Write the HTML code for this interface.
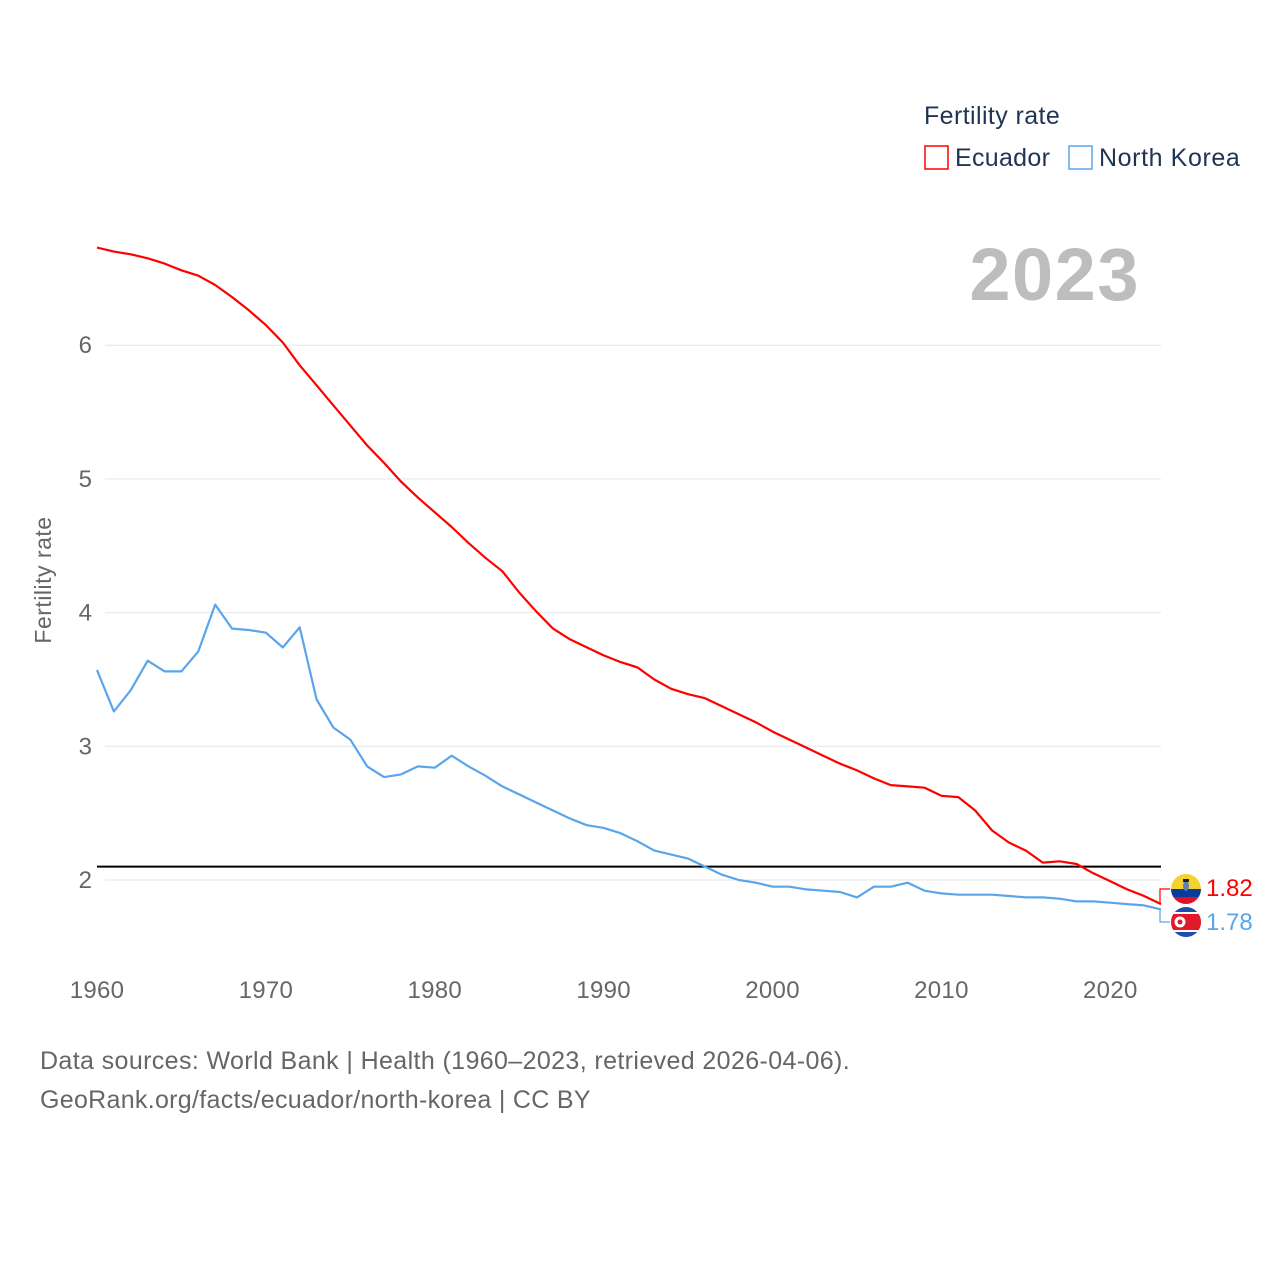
<!DOCTYPE html>
<html><head><meta charset="utf-8"><style>
body{margin:0;background:#fff;font-family:"Liberation Sans",sans-serif}
</style></head><body>
<svg id="chart" width="1280" height="1280" xmlns="http://www.w3.org/2000/svg" font-family="Liberation Sans, sans-serif">
<rect width="1280" height="1280" fill="#fff"/>
<g id="grid"></g>
<g id="lines"></g>
<text x="924" y="124" font-size="25" fill="#1f3354" letter-spacing="0.4">Fertility rate</text>
<g><rect x="925" y="146" width="23" height="23" fill="none" stroke="#ff0000" stroke-width="1.5"/><text x="955" y="166" font-size="25" fill="#1f3354" letter-spacing="0.3">Ecuador</text></g>
<g><rect x="1069" y="146" width="23" height="23" fill="none" stroke="#5aa5ea" stroke-width="1.5"/><text x="1099" y="166" font-size="25" fill="#1f3354" letter-spacing="0.6">North Korea</text></g>
<text x="1140" y="300" text-anchor="end" font-size="74" font-weight="bold" fill="#bdbdbd" letter-spacing="1.5">2023</text>
<text transform="translate(51,580) rotate(-90)" text-anchor="middle" font-size="23" fill="#666" letter-spacing="0.5">Fertility rate</text>
<text x="40" y="1069" font-size="25" fill="#666" letter-spacing="0.38">Data sources: World Bank | Health (1960–2023, retrieved 2026-04-06).</text>
<text x="40" y="1108" font-size="25" fill="#666" letter-spacing="0.3">GeoRank.org/facts/ecuador/north-korea | CC BY</text>
</svg>
<script>
const years=[];for(let y=1960;y<=2023;y++)years.push(y);
const ecuador=[6.73,6.70,6.68,6.65,6.61,6.56,6.52,6.45,6.36,6.26,6.15,6.02,5.85,5.70,5.55,5.40,5.25,5.12,4.98,4.86,4.75,4.64,4.52,4.41,4.31,4.15,4.01,3.88,3.80,3.74,3.68,3.63,3.59,3.50,3.43,3.39,3.36,3.30,3.24,3.18,3.11,3.05,2.99,2.93,2.87,2.82,2.76,2.71,2.70,2.69,2.63,2.62,2.52,2.37,2.28,2.22,2.13,2.14,2.12,2.05,1.99,1.93,1.88,1.82];
const northKorea=[3.57,3.26,3.42,3.64,3.56,3.56,3.71,4.06,3.88,3.87,3.85,3.74,3.89,3.35,3.14,3.05,2.85,2.77,2.79,2.85,2.84,2.93,2.85,2.78,2.70,2.64,2.58,2.52,2.46,2.41,2.39,2.35,2.29,2.22,2.19,2.16,2.10,2.04,2.00,1.98,1.95,1.95,1.93,1.92,1.91,1.87,1.95,1.95,1.98,1.92,1.90,1.89,1.89,1.89,1.88,1.87,1.87,1.86,1.84,1.84,1.83,1.82,1.81,1.78];
const yTicks=[2,3,4,5,6];
const xTicks=[1960,1970,1980,1990,2000,2010,2020];
const replacement=2.1;
const NS="http://www.w3.org/2000/svg";
const X=y=>97+(y-1960)*(1161-97)/63;
const Y=v=>880-(v-2)*133.7;
function mk(t,a,p){const e=document.createElementNS(NS,t);for(const k in a)e.setAttribute(k,a[k]);p.appendChild(e);return e;}
const grid=document.getElementById('grid'),lines=document.getElementById('lines');
yTicks.forEach(v=>{
 const l=mk('line',{x1:105,x2:1161,y1:Y(v),y2:Y(v),stroke:'#e6e6e6','stroke-width':1},grid);
 
 
 const t=mk('text',{x:92,y:Y(v)+8,'text-anchor':'end','font-size':24,fill:'#666'},grid);t.textContent=v;
 
 
});
xTicks.forEach(v=>{
 const t=mk('text',{x:X(v),y:998,'text-anchor':'middle','font-size':24,fill:'#666','letter-spacing':0.3},grid);t.textContent=v;
 
 
});
const rl=mk('line',{x1:97,x2:1161,y1:Y(replacement),y2:Y(replacement),stroke:'#000','stroke-width':2},grid);


function series(vals,col,name){
 const p=mk('path',{d:vals.map((v,i)=>(i?'L':'M')+X(years[i]).toFixed(1)+','+Y(v).toFixed(1)).join(''),fill:'none',stroke:col,'stroke-width':2.2,'stroke-linejoin':'round'},lines);
 
 
}
series(northKorea,'#5aa5ea','north-korea');
series(ecuador,'#ff0000','ecuador');
const eL=ecuador[ecuador.length-1],nL=northKorea[northKorea.length-1];
const xe=X(2023);
const c1=mk('path',{d:`M${xe},${Y(eL)}L${xe-1},${Y(eL)}L${xe-1},889L1170,889`,fill:'none',stroke:'#ff0000','stroke-width':1.2},lines);


const c2=mk('path',{d:`M${xe},${Y(nL)}L${xe-1},${Y(nL)}L${xe-1},922L1170,922`,fill:'none',stroke:'#5aa5ea','stroke-width':1.2},lines);


const f1=mk('g',{},lines);


const cp1=mk('clipPath',{id:'cp1'},f1);mk('circle',{cx:1186,cy:889,r:15},cp1);
const g1=mk('g',{'clip-path':'url(#cp1)'},f1);
mk('rect',{x:1171,y:874,width:30,height:15,fill:'#f5d130'},g1);
mk('rect',{x:1171,y:889,width:30,height:8,fill:'#0a3a9a'},g1);
mk('rect',{x:1171,y:897,width:30,height:8,fill:'#e0102a'},g1);
mk('ellipse',{cx:1186,cy:886,rx:3,ry:5,fill:'#5d7fb5'},g1);
mk('rect',{x:1183,y:879,width:6,height:3,fill:'#222'},g1);
const f2=mk('g',{},lines);


const cp2=mk('clipPath',{id:'cp2'},f2);mk('circle',{cx:1186,cy:922,r:15},cp2);
const g2=mk('g',{'clip-path':'url(#cp2)'},f2);
mk('rect',{x:1171,y:907,width:30,height:30,fill:'#1d4fa8'},g2);
mk('rect',{x:1171,y:912,width:30,height:20,fill:'#fff'},g2);
mk('rect',{x:1171,y:914,width:30,height:16,fill:'#e01a2a'},g2);
mk('circle',{cx:1180,cy:922,r:5.5,fill:'#fff'},g2);
mk('circle',{cx:1180,cy:922,r:2.5,fill:'#e01a2a'},g2);
const t1=mk('text',{x:1206,y:896,'font-size':24,fill:'#ff0000'},lines);t1.textContent=eL.toFixed(2);


const t2=mk('text',{x:1206,y:930,'font-size':24,fill:'#5aa5ea'},lines);t2.textContent=nL.toFixed(2);


</script>
</body></html>
